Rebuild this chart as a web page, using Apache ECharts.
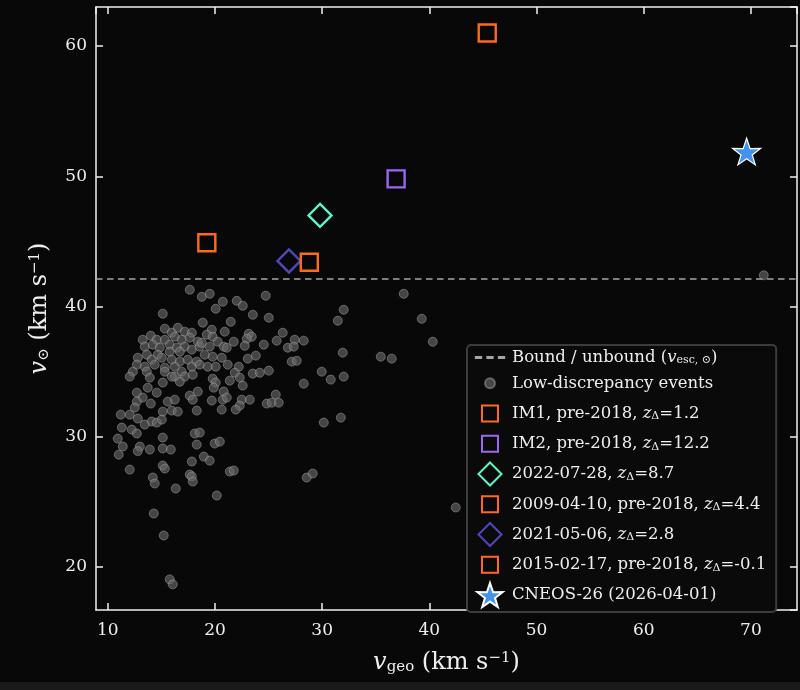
<!DOCTYPE html>
<html lang="en">
<head>
<meta charset="UTF-8">
<title>v_sun vs v_geo</title>
<style>
  * { padding: 0; margin: 0; }
  body { background: #080808; }
</style>
<script src="https://cdn.jsdelivr.net/npm/echarts@6.0.0/dist/echarts.min.js"></script>
</head>
<body>
<div id="main" style="width:800px;height:690px;"></div>
<script>
// axis extents (km/s)
var xMin = 8.9, xMax = 74.3;
var yMin = 16.7, yMax = 63.0;
var vEsc = 42.13; // bound / unbound line

// low-discrepancy events: [v_geo, v_sun]
var lowEvents = [
  [17.65,41.29],[18.77,40.75],[15.13,39.45],[18.86,38.76],[15.32,38.30],[16.53,38.37],[17.18,38.07],[17.84,37.99],
  [15.97,37.99],[14.01,37.76],[13.26,37.45],[14.57,37.45],[15.32,37.45],[16.25,37.68],[16.90,37.45],[17.65,37.61],
  [18.40,37.30],[13.45,36.92],[14.20,37.07],[14.85,36.84],[15.78,37.07],[16.44,36.84],[17.18,36.92],[17.84,36.69],
  [18.58,36.92],[14.66,36.30],[15.78,36.53],[16.72,36.53],[12.80,36.07],[13.64,36.30],[14.10,35.92],[15.04,36.07],
  [15.97,35.92],[16.72,35.77],[17.46,35.92],[18.30,35.77],[12.71,35.54],[13.45,35.38],[14.38,35.54],[15.32,35.31],
  [16.25,35.38],[17.84,35.38],[18.58,35.54],[12.33,35.00],[13.64,35.00],[15.32,35.00],[16.90,35.00],[12.05,34.62],
  [13.92,34.54],[16.25,34.62],[17.18,34.62],[17.93,34.77],
  [19.51,40.98],[24.74,40.83],[20.73,40.37],[22.03,40.44],[22.59,40.06],[20.07,39.83],[23.53,39.37],[25.02,39.14],
  [21.47,38.83],[19.70,38.22],[20.91,38.07],[23.15,37.91],[23.43,37.68],[26.32,37.99],[19.24,37.84],[19.79,37.68],
  [20.26,37.30],[21.75,37.30],[22.97,37.53],[25.76,37.38],[27.44,37.45],[28.28,37.38],[18.77,37.22],[19.51,36.92],
  [20.82,36.92],[21.10,36.84],[22.78,36.99],[24.55,37.07],[26.79,36.84],[27.35,36.92],[19.05,36.30],[19.79,36.15],
  [20.63,36.07],[23.06,36.00],[23.81,36.23],[27.16,35.77],[27.63,35.84],[19.33,35.38],[20.07,35.38],[21.19,35.54],
  [22.22,35.38],[21.85,34.92],[23.53,34.85],[24.18,34.92],[25.02,35.08],[19.79,34.46],[22.31,34.54],
  [15.13,34.16],[15.97,34.62],[16.72,34.23],[12.71,33.39],[13.73,33.77],[14.57,33.39],[17.65,33.16],[18.40,33.47],
  [13.26,33.01],[14.01,32.55],[15.60,32.70],[16.25,32.85],[12.71,32.70],[12.52,32.24],[17.93,32.85],[18.30,32.01],
  [15.13,31.93],[15.97,32.01],[16.53,31.93],[11.21,31.70],[12.05,31.70],[12.80,31.40],[14.10,31.17],[14.57,31.09],
  [15.04,31.32],[13.45,30.94],[11.31,30.71],[12.24,30.55],[12.71,30.25],[18.12,30.25],[10.93,29.86],[15.13,29.94],
  [18.30,29.40],[11.40,29.25],[12.99,29.25],[13.92,29.02],[15.13,29.10],[15.88,29.02],[11.02,28.63],[18.96,28.48],
  [17.84,28.10],[12.05,27.48],[15.13,27.79],[15.32,27.56],[17.65,27.10],[12.80,28.90],
  [20.07,34.16],[21.38,34.31],[22.59,33.93],[28.28,34.08],[19.89,33.77],[20.82,33.47],[19.70,32.78],[20.73,32.85],
  [21.10,33.01],[22.50,32.85],[23.25,32.85],[25.67,33.24],[24.83,32.55],[25.30,32.62],[25.95,32.62],[22.31,32.39],
  [20.63,32.09],[21.94,32.09],[18.58,30.32],[19.98,29.48],[20.45,29.63],[19.51,28.17],[21.38,27.33],[21.75,27.41],
  [14.20,26.87],[14.38,26.41],[16.34,26.03],[17.84,26.95],[17.93,26.56],[20.17,25.49],[14.29,24.11],[15.22,22.42],
  [15.78,19.05],[16.06,18.67],
  [37.61,40.98],[32.01,39.75],[31.46,38.91],[39.29,39.06],[31.92,36.46],[40.32,37.30],[35.47,36.15],[36.49,36.00],
  [29.96,35.00],[30.80,34.39],[32.01,34.62],[30.15,31.09],[31.74,31.47],[28.56,26.87],[29.12,27.18],[42.46,24.57],
  [71.2,42.4]
];

// highlighted events
var eventNames = [
  'IM1, pre-2018, zΔ=1.2',
  'IM2, pre-2018, zΔ=12.2',
  '2022-07-28, zΔ=8.7',
  '2009-04-10, pre-2018, zΔ=4.4',
  '2021-05-06, zΔ=2.8',
  '2015-02-17, pre-2018, zΔ=-0.1',
  'CNEOS-26 (2026-04-01)'
];
var eventVgeo = [19.24, 36.9, 29.8, 45.4, 26.9, 28.8, 69.6];
var eventVsun = [44.9, 49.8, 47.0, 61.0, 43.5, 43.4, 51.9];

var boundName = 'Bound / unbound (vesc,⊙)';
var lowName = 'Low-discrepancy events';

// marker shapes (the extra moveTo points pad the legend icons)
var starPath = 'path://M50,0 L61.8,35.1 L97.6,34.5 L69.1,56.7 L79.4,90.5 L50,70 L20.6,90.5 L30.9,56.7 L2.4,34.5 L38.2,35.1 Z';
var diamondPath = 'path://M50,0 L100,50 L50,100 L0,50 Z';
var squareIcon = 'path://M-25,-25 Z M0,0 L100,0 L100,100 L0,100 Z M125,125 Z';
var diamondIcon = 'path://M-2,-2 Z M50,0 L100,50 L50,100 L0,50 Z M102,102 Z';
var dotIcon = 'path://M-70,-70 Z M50,0 A50,50 0 1,1 49.9,0 Z M170,170 Z';
var dashIcon = 'path://M-6,0 Z M0,0 L24,0 L24,10 L0,10 Z M38,0 L62,0 L62,10 L38,10 Z M76,0 L100,0 L100,10 L76,10 Z M106,10 Z';

var eventColors = ['#ff6a1a', '#9a68f0', '#5cf5c8', '#ff6a1a', '#5046bb', '#ff6a1a', '#4393ec'];
var eventSymbols = ['rect', 'rect', diamondPath, 'rect', diamondPath, 'rect', starPath];
var eventIcons = [squareIcon, squareIcon, diamondIcon, squareIcon, diamondIcon, squareIcon, starPath];
var eventSizes = [17, 17, 23, 17, 23, 17, 28];

var serif = 'DejaVu Serif';
var textCol = '#eeeeee';

var myChart = echarts.init(document.getElementById('main'));

var series = [
  {
    name: boundName,
    type: 'line',
    data: [],
    symbol: 'none',
    lineStyle: { color: '#a5a5a5', type: [6.5, 4.5], width: 1.5 },
    itemStyle: { color: '#a5a5a5' },
    markLine: {
      silent: true,
      symbol: 'none',
      label: { show: false },
      lineStyle: { color: '#a5a5a5', type: [6.5, 4.5], width: 1.5 },
      data: [{ yAxis: vEsc }]
    }
  },
  {
    name: lowName,
    type: 'scatter',
    data: lowEvents,
    symbol: 'circle',
    symbolSize: 9,
    itemStyle: {
      color: 'rgba(105,105,105,0.8)',
      borderColor: 'rgba(170,170,170,0.6)',
      borderWidth: 1
    },
    z: 2
  }
];

eventNames.forEach(function (name, i) {
  var isStar = i === eventNames.length - 1;
  series.push({
    name: name,
    type: 'scatter',
    data: [[eventVgeo[i], eventVsun[i]]],
    symbol: eventSymbols[i],
    symbolSize: eventSizes[i],
    symbolKeepAspect: true,
    itemStyle: isStar ? {
      color: eventColors[i],
      borderColor: '#ffffff',
      borderWidth: 1.2,
      opacity: 1
    } : {
      color: 'rgba(0,0,0,0)',
      borderColor: eventColors[i],
      borderWidth: 2.4,
      opacity: 1
    },
    z: 5
  });
});

var legendData = [
  { name: boundName, icon: dashIcon },
  { name: lowName, icon: dotIcon }
].concat(eventNames.map(function (name, i) {
  return { name: name, icon: eventIcons[i] };
}));

var legendRich = {
  i: { fontFamily: serif, fontStyle: 'italic', fontSize: 16.5, color: textCol },
  s: { fontFamily: serif, fontSize: 11, color: textCol, verticalAlign: 'bottom', lineHeight: 15 }
};

var axisRich = {
  v: { fontFamily: serif, fontStyle: 'italic', fontSize: 24, color: textCol },
  sub: { fontFamily: serif, fontSize: 15, color: textCol, verticalAlign: 'bottom', lineHeight: 18 },
  t: { fontFamily: serif, fontSize: 24, color: textCol },
  sup: { fontFamily: serif, fontSize: 15, color: textCol, verticalAlign: 'top', lineHeight: 18 }
};

var option = {
  backgroundColor: '#080808',
  animation: false,
  grid: { left: 96, top: 7, right: 3, bottom: 80 },
  legend: {
    orient: 'vertical',
    left: 467,
    top: 345,
    padding: [4, 10, 4, 6],
    backgroundColor: '#0a0a0a',
    borderColor: '#3c3c3c',
    borderWidth: 2,
    borderRadius: 4,
    itemWidth: 34,
    itemHeight: 24,
    itemGap: 4.25,
    symbolKeepAspect: true,
    data: legendData,
    textStyle: { fontFamily: serif, fontSize: 16.5, color: textCol, rich: legendRich },
    formatter: function (name) {
      if (name === boundName) {
        return 'Bound / unbound ({i|v}{s|esc, ⊙})';
      }
      return name.replace('zΔ', '{i|z}{s|Δ}');
    }
  },
  xAxis: [
    {
      type: 'value',
      min: xMin,
      max: xMax,
      splitNumber: 6,
      position: 'bottom',
      name: '{v|v}{sub|geo}{t| (km s}{sup|−1}{t|)}',
      nameLocation: 'middle',
      nameGap: 41,
      nameTextStyle: { rich: axisRich },
      axisLine: { lineStyle: { color: '#f0f0f0', width: 1.5 } },
      axisTick: { inside: true, length: 7, lineStyle: { color: '#f0f0f0', width: 1.5 } },
      axisLabel: { fontFamily: serif, fontSize: 17, color: textCol, margin: 12, showMinLabel: false, showMaxLabel: false },
      splitLine: { show: false }
    },
    {
      type: 'value',
      min: xMin,
      max: xMax,
      splitNumber: 6,
      position: 'top',
      axisLine: { lineStyle: { color: '#f0f0f0', width: 1.5 } },
      axisTick: { inside: true, length: 7, lineStyle: { color: '#f0f0f0', width: 1.5 } },
      axisLabel: { show: false },
      splitLine: { show: false }
    }
  ],
  yAxis: [
    {
      type: 'value',
      min: yMin,
      max: yMax,
      splitNumber: 5,
      position: 'left',
      name: '{v|v}{sub|⊙}{t| (km s}{sup|−1}{t|)}',
      nameLocation: 'middle',
      nameRotate: 90,
      nameGap: 44,
      nameTextStyle: { rich: axisRich },
      axisLine: { show: true, lineStyle: { color: '#f0f0f0', width: 1.5 } },
      axisTick: { show: true, inside: true, length: 7, lineStyle: { color: '#f0f0f0', width: 1.5 } },
      axisLabel: { fontFamily: serif, fontSize: 17, color: textCol, margin: 9, showMinLabel: false, showMaxLabel: false },
      splitLine: { show: false }
    },
    {
      type: 'value',
      min: yMin,
      max: yMax,
      splitNumber: 5,
      position: 'right',
      axisLine: { show: true, lineStyle: { color: '#f0f0f0', width: 1.5 } },
      axisTick: { show: true, inside: true, length: 7, lineStyle: { color: '#f0f0f0', width: 1.5 } },
      axisLabel: { show: false },
      splitLine: { show: false }
    }
  ],
  graphic: [
    { type: 'rect', left: 0, bottom: 0, shape: { width: 800, height: 8 }, style: { fill: '#1a1a1a' }, silent: true }
  ],
  series: series
};

myChart.setOption(option);
</script>
</body>
</html>
